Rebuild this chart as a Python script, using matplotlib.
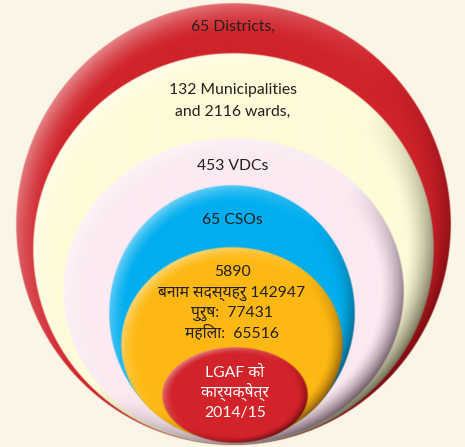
import numpy as np
import matplotlib
matplotlib.use('Agg')
import matplotlib.pyplot as plt
from matplotlib import font_manager
from matplotlib.colors import to_rgb

# labels, outer ring to inner ring
ring_labels = [
    ['65 Districts,'],
    ['132 Municipalities', 'and 2116 wards,'],
    ['453 VDCs'],
    ['65 CSOs'],
    ['5890', 'बनाम सदस्यहरु 142947', 'पुरुष:  77431', 'महिला:  65516'],
    ['LGAF को', 'कार्यक्षेत्र', '2014/15'],
]
ring_colors = ['#D0232A', '#FEFBD8', '#FBEAF2', '#00AEEF', '#FDB913', '#D2232A']
shade_colors = ['#7A0A10', '#6E6C55', '#6E5A66', '#0A5E80', '#8A5A05', '#6A0A0E']
text_colors = ['#231F20', '#231F20', '#231F20', '#231F20', '#231F20', '#FFFFFF']

# ellipse layout in pixel units: cx, cy, rx, ry
geom = [
    (233, 224, 217, 221),
    (233, 249, 200, 196),
    (233, 291, 170, 153),
    (232, 313, 123, 128),
    (232, 344, 111, 97),
    (235, 395, 73, 48),
]
# text line positions (y in pixels) for each ring
line_y = [
    [27],
    [90, 112],
    [166],
    [220],
    [272, 293, 313, 333],
    [373, 393, 413],
]

names = sorted({f.name for f in font_manager.fontManager.ttflist})
deva = [n for n in names if n == 'Noto Sans Devanagari']
if not deva:
    deva = [n for n in names if 'Devanagari' in n]
fams = ['Lato'] + deva[:1] + ['DejaVu Sans']

W, H = 465, 447
fig = plt.figure(figsize=(W / 100, H / 100), dpi=100)
fig.patch.set_facecolor('#FBF5E6')
ax = fig.add_axes([0, 0, 1, 1])
ax.axis('off')


def draw_ball(cx, cy, rx, ry, base, shade):
    x0, x1 = cx - rx - 1, cx + rx + 1
    y0, y1 = cy - ry - 1, cy + ry + 1
    xs = np.linspace(x0, x1, int((x1 - x0) * 2))
    ys = np.linspace(y0, y1, int((y1 - y0) * 2))
    X, Y = np.meshgrid(xs, ys)
    u = (X - cx) / rx
    v = (Y - cy) / ry
    r = np.sqrt(u ** 2 + v ** 2)
    ang = np.arctan2(v, u)
    # light from upper left, shadow to lower right
    d = np.cos(ang - np.deg2rad(45))
    edge = np.clip((r - 0.86) / 0.14, 0, 1) ** 1.5
    b = np.array(to_rgb(base))
    s = np.array(to_rgb(shade))
    img = np.ones(X.shape + (4,))
    img[..., :3] = b
    dark = np.clip(d, 0, 1)[..., None] * edge[..., None]
    light = np.clip(-d, 0, 1)[..., None] * edge[..., None] * 0.45
    img[..., :3] = img[..., :3] * (1 - dark) + s * dark
    img[..., :3] = img[..., :3] * (1 - light) + light
    img[..., 3] = np.clip((1 - r) * min(rx, ry) + 0.5, 0, 1)
    ax.imshow(img, extent=(x0, x1, y1, y0), interpolation='bilinear', zorder=2)


for i, (cx, cy, rx, ry) in enumerate(geom):
    draw_ball(cx, cy, rx, ry, ring_colors[i], shade_colors[i])

ax.set_xlim(0, W)
ax.set_ylim(H, 0)

for i, lines in enumerate(ring_labels):
    cx = geom[i][0]
    for j, txt in enumerate(lines):
        ax.text(cx, line_y[i][j], txt, ha='center', va='center',
                fontsize=11.3, color=text_colors[i], family=fams, zorder=5)

fig.savefig('out.png', dpi=100, facecolor=fig.get_facecolor())
